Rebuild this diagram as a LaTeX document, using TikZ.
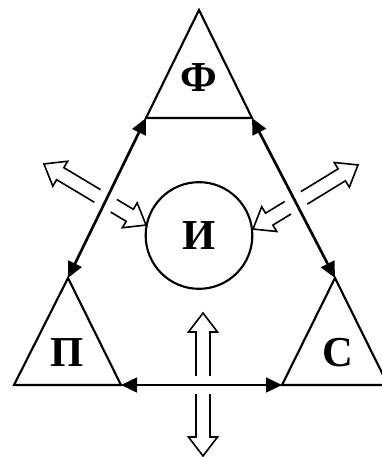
\documentclass[tikz,border=0pt]{standalone}
\usepackage{fontspec}
\setmainfont{Liberation Serif}
\usetikzlibrary{arrows.meta}

\tikzset{
  side/.style={line width=1.6pt, line join=miter},
  link/.style={line width=2pt,
    {Triangle[length=12pt,width=11pt]}-{Triangle[length=12pt,width=11pt]}},
  halo/.style={white, line width=14pt},
  hollow/.style={line width=1.2pt, fill=white, line join=miter},
  letter/.style={font=\fontsize{32}{32}\selectfont\bfseries, inner sep=1pt}
}

\begin{document}
\begin{tikzpicture}[x=0.75pt, y=0.75pt]
\useasboundingbox (0,0) rectangle (382,457);

%% Vrcholy trojuholníkov
\coordinate (F-top)   at (199,447);
\coordinate (F-left)  at (146,339);
\coordinate (F-right) at (252,339);
\coordinate (P-top)   at (68,179);
\coordinate (P-left)  at (14,72);
\coordinate (P-right) at (121,72);
\coordinate (S-top)   at (335,179);
\coordinate (S-left)  at (282,72);
\coordinate (S-right) at (388,72);

%% Duté obojstranné šípky: (stred, uhol, dĺžka)
\foreach \cx/\cy/\ang/\len in {
    95/262.5/-30.9/119,
    305.5/260/31.4/123,
    203/72.5/90/143
} {
    \draw[hollow, shift={(\cx,\cy)}, rotate=\ang]
        (-\len/2,0) -- (-\len/2+19,14.5) -- (-\len/2+19,7)
        -- (\len/2-19,7) -- (\len/2-19,14.5) -- (\len/2,0)
        -- (\len/2-19,-14.5) -- (\len/2-19,-7)
        -- (-\len/2+19,-7) -- (-\len/2+19,-14.5) -- cycle;
}

%% Biele medzery okolo spojníc
\draw[halo, shorten <=20pt, shorten >=20pt] (F-left) -- (P-top);
\draw[halo, shorten <=20pt, shorten >=20pt] (F-right) -- (S-top);
\draw[halo, shorten <=20pt, shorten >=20pt] (P-right) -- (S-left);

%% Trojuholníky
\draw[side] (F-top) -- (F-left) -- (F-right) -- cycle;
\draw[side] (P-top) -- (P-left) -- (P-right) -- cycle;
\draw[side] (S-top) -- (S-left) -- (S-right) -- cycle;

%% Popisy
\node[letter] (F) at (199,379) {Ф};
\node[letter] (P) at (67.5,104) {П};
\node[letter] (S) at (337.5,104) {С};
\node[letter, draw, circle, line width=1.6pt, minimum size=80pt]
    (I) at (199,221.5) {И};

%% Spojnice
\draw[link] (F-left) -- (P-top);
\draw[link] (F-right) -- (S-top);
\draw[link] (P-right) -- (S-left);

\end{tikzpicture}
\end{document}
